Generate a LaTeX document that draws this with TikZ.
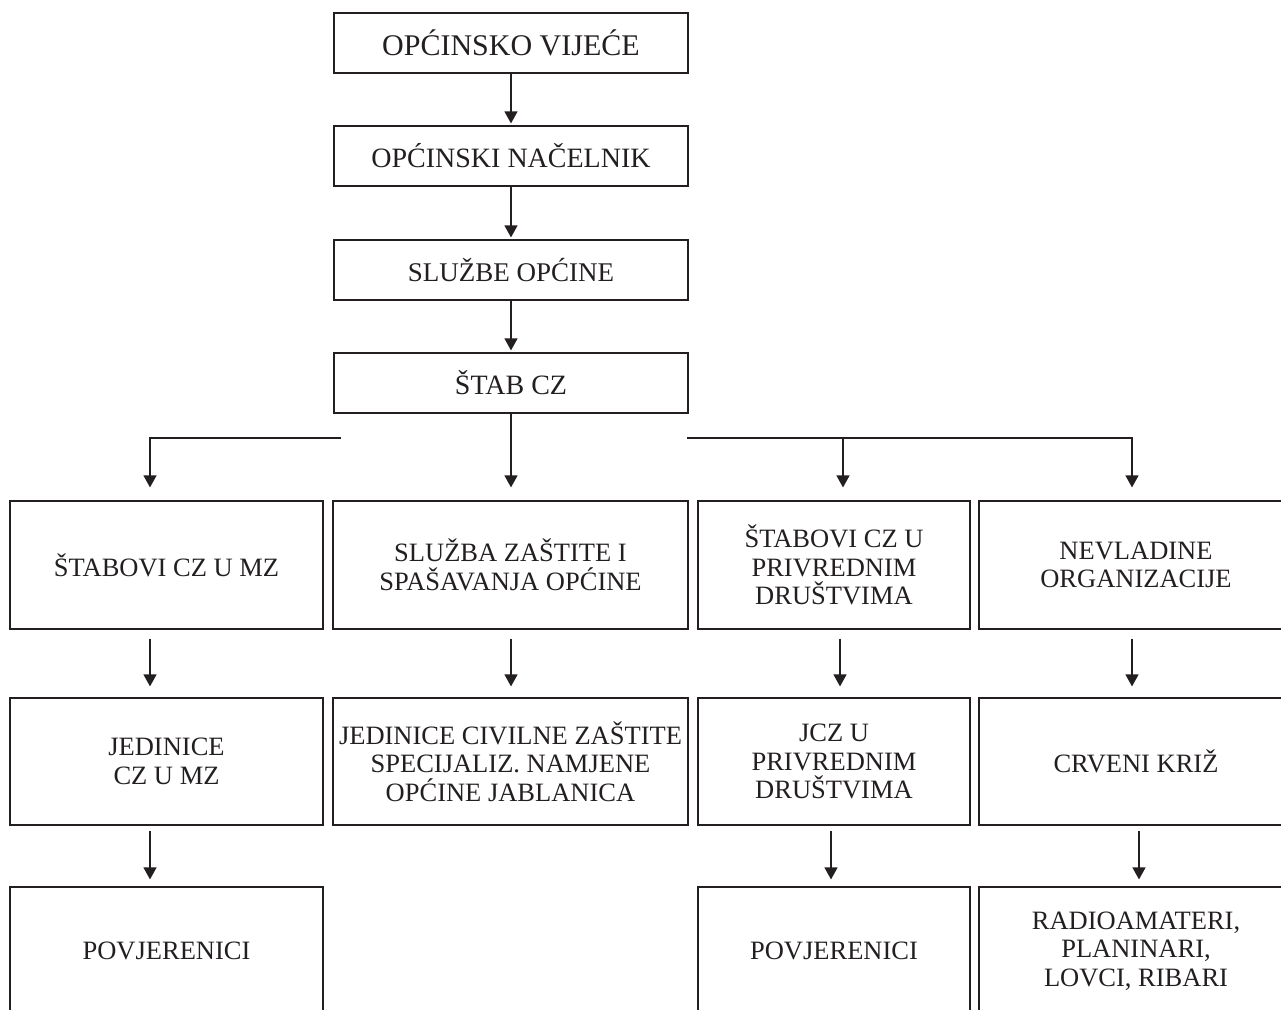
\documentclass[tikz,border=0pt]{standalone}
\usepackage{fontspec}
\setmainfont{Liberation Serif}
\usetikzlibrary{arrows.meta}
\definecolor{ink}{HTML}{231F20}
\begin{document}
\begin{tikzpicture}[x=1pt,y=-1pt,
  box/.style={draw=ink, line width=1.2pt, text=ink, align=center, inner sep=0pt,
    font=\fontsize{26.5}{28.5}\selectfont},
  topbox/.style={box, minimum width=354pt, minimum height=60pt,
    font=\fontsize{28}{30}\selectfont},
  rowa/.style={box, minimum height=128pt},
  rowb/.style={box, minimum height=127pt},
  arr/.style={draw=ink, line width=1.2pt, -{Triangle[length=12pt,width=13pt]}}]
\clip (0,0) rectangle (1281,1009);
\fill[white] (0,0) rectangle (1281,1009);
% top chain
\node[topbox, font=\fontsize{30}{32}\selectfont] (b1) at (511,43) {OPĆINSKO VIJEĆE};
\node[topbox] (b2) at (511,156) {OPĆINSKI NAČELNIK};
\node[topbox, font=\fontsize{27}{29}\selectfont] (b3) at (511,270) {SLUŽBE OPĆINE};
\node[topbox] (b4) at (511,383) {ŠTAB CZ};
% row 1
\node[rowa, minimum width=313pt] (r1c1) at (166.5,565) {ŠTABOVI CZ U MZ};
\node[rowa, minimum width=355pt] (r1c2) at (510.5,565) {SLUŽBA ZAŠTITE I\\SPAŠAVANJA OPĆINE};
\node[rowa, minimum width=272pt] (r1c3) at (834,565) {ŠTABOVI CZ U\\PRIVREDNIM\\DRUŠTVIMA};
\node[rowa, minimum width=314pt] (r1c4) at (1136,565) {NEVLADINE\\ORGANIZACIJE};
% row 2
\node[rowb, minimum width=313pt] (r2c1) at (166.5,761.5) {JEDINICE\\CZ U MZ};
\node[rowb, minimum width=355pt] (r2c2) at (510.5,761.5) {JEDINICE CIVILNE ZAŠTITE\\SPECIJALIZ. NAMJENE\\OPĆINE JABLANICA};
\node[rowb, minimum width=272pt] (r2c3) at (834,761.5) {JCZ U\\PRIVREDNIM\\DRUŠTVIMA};
\node[rowb, minimum width=314pt] (r2c4) at (1136,761.5) {CRVENI KRIŽ};
% row 3
\node[rowa, minimum width=313pt] (r3c1) at (166.5,951) {POVJERENICI};
\node[rowa, minimum width=272pt] (r3c3) at (834,951) {POVJERENICI};
\node[rowa, minimum width=314pt] (r3c4) at (1136,951) {RADIOAMATERI,\\PLANINARI,\\LOVCI, RIBARI};
% helper coordinates
\coordinate (hl) at (341,438);
\coordinate (hr) at (687,438);
\coordinate (xa) at (150,0);
\coordinate (xc) at (843,0);
\coordinate (xd) at (1132,0);
\coordinate (xc2) at (840,0);
\coordinate (xc3) at (831,0);
\coordinate (xd3) at (1139,0);
% top arrows
\draw[arr, shorten >=2pt] (b1.south) -- (b2.north);
\draw[arr, shorten >=2pt] (b2.south) -- (b3.north);
\draw[arr, shorten >=2pt] (b3.south) -- (b4.north);
% branching
\draw[arr, shorten >=13pt] (b4.south) -- (b4.south |- r1c2.north);
\draw[arr, shorten >=13pt] (hl) -| (xa |- r1c1.north);
\draw[arr, shorten >=13pt] (hr) -| (xd |- r1c4.north);
\draw[arr, shorten >=13pt] (xc |- hr) -- (xc |- r1c3.north);
% row 1 -> row 2
\draw[arr, shorten <=9pt, shorten >=11pt] (xa |- r1c1.south) -- (xa |- r2c1.north);
\draw[arr, shorten <=9pt, shorten >=11pt] (b4.south |- r1c2.south) -- (b4.south |- r2c2.north);
\draw[arr, shorten <=9pt, shorten >=11pt] (xc2 |- r1c3.south) -- (xc2 |- r2c3.north);
\draw[arr, shorten <=9pt, shorten >=11pt] (xd |- r1c4.south) -- (xd |- r2c4.north);
% row 2 -> row 3
\draw[arr, shorten <=5pt, shorten >=7pt] (xa |- r2c1.south) -- (xa |- r3c1.north);
\draw[arr, shorten <=5pt, shorten >=7pt] (xc3 |- r2c3.south) -- (xc3 |- r3c3.north);
\draw[arr, shorten <=5pt, shorten >=7pt] (xd3 |- r2c4.south) -- (xd3 |- r3c4.north);
\end{tikzpicture}
\end{document}
